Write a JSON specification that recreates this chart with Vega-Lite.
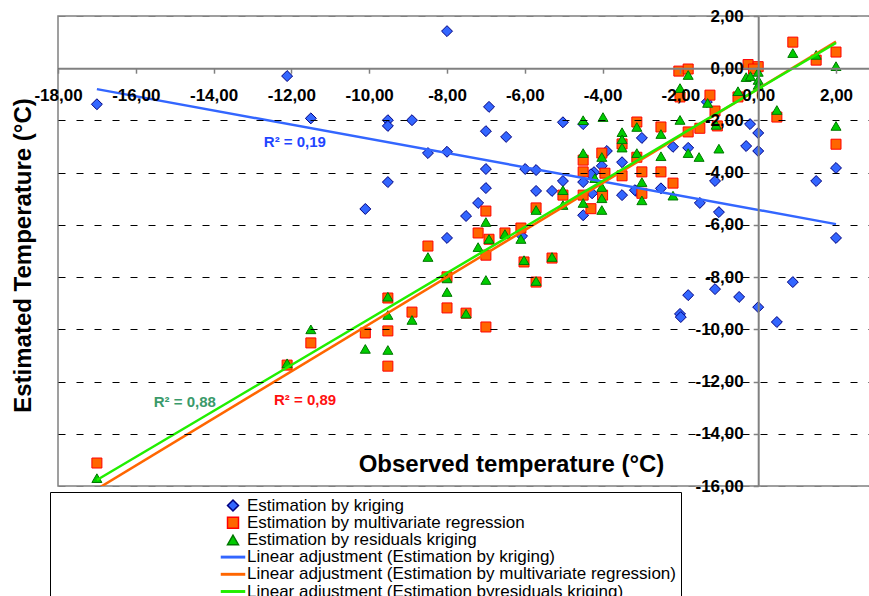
{
  "$schema": "https://vega.github.io/schema/vega-lite/v6.json",
  "width": 812,
  "height": 470,
  "autosize": {"type": "none"},
  "padding": {"left": 58, "top": 16, "right": 0, "bottom": 110},
  "background": "white",
  "config": {"view": {"stroke": "#808080", "strokeWidth": 1.5}, "font": "Liberation Sans"},
  "datasets": {
    "pts": [
      {"series": "Estimation by kriging", "observed": -17, "estimated": -1.38},
      {"series": "Estimation by kriging", "observed": -12.11, "estimated": -0.3},
      {"series": "Estimation by kriging", "observed": -8, "estimated": 1.42},
      {"series": "Estimation by kriging", "observed": -11.5, "estimated": -1.92},
      {"series": "Estimation by kriging", "observed": -9.52, "estimated": -1.99},
      {"series": "Estimation by kriging", "observed": -9.52, "estimated": -2.21},
      {"series": "Estimation by kriging", "observed": -8.9, "estimated": -1.99},
      {"series": "Estimation by kriging", "observed": -6.92, "estimated": -1.48},
      {"series": "Estimation by kriging", "observed": -7, "estimated": -2.41},
      {"series": "Estimation by kriging", "observed": -6.48, "estimated": -2.63},
      {"series": "Estimation by kriging", "observed": -5.02, "estimated": -2.07},
      {"series": "Estimation by kriging", "observed": -8.49, "estimated": -3.25},
      {"series": "Estimation by kriging", "observed": -8, "estimated": -3.2},
      {"series": "Estimation by kriging", "observed": -7, "estimated": -3.86},
      {"series": "Estimation by kriging", "observed": -5.99, "estimated": -3.86},
      {"series": "Estimation by kriging", "observed": -5.71, "estimated": -3.9},
      {"series": "Estimation by kriging", "observed": -9.52, "estimated": -4.36},
      {"series": "Estimation by kriging", "observed": -7, "estimated": -4.59},
      {"series": "Estimation by kriging", "observed": -5.71, "estimated": -4.7},
      {"series": "Estimation by kriging", "observed": -5.3, "estimated": -4.7},
      {"series": "Estimation by kriging", "observed": -5.02, "estimated": -4.32},
      {"series": "Estimation by kriging", "observed": -7.2, "estimated": -5.16},
      {"series": "Estimation by kriging", "observed": -7.51, "estimated": -5.66},
      {"series": "Estimation by kriging", "observed": -8, "estimated": -6.5},
      {"series": "Estimation by kriging", "observed": -10.1, "estimated": -5.39},
      {"series": "Estimation by kriging", "observed": -6.07, "estimated": -6.43},
      {"series": "Estimation by kriging", "observed": -4.5, "estimated": -5.63},
      {"series": "Estimation by kriging", "observed": -4.5, "estimated": -2.14},
      {"series": "Estimation by kriging", "observed": -2.99, "estimated": -2.67},
      {"series": "Estimation by kriging", "observed": -2.19, "estimated": -3.01},
      {"series": "Estimation by kriging", "observed": -1.8, "estimated": -3.05},
      {"series": "Estimation by kriging", "observed": -3.89, "estimated": -3.17},
      {"series": "Estimation by kriging", "observed": -3.5, "estimated": -3.6},
      {"series": "Estimation by kriging", "observed": -4.02, "estimated": -3.74},
      {"series": "Estimation by kriging", "observed": -4.22, "estimated": -3.98},
      {"series": "Estimation by kriging", "observed": -4.5, "estimated": -4.36},
      {"series": "Estimation by kriging", "observed": -1.11, "estimated": -4.32},
      {"series": "Estimation by kriging", "observed": -0.21, "estimated": -2.14},
      {"series": "Estimation by kriging", "observed": 0, "estimated": -2.48},
      {"series": "Estimation by kriging", "observed": -0.31, "estimated": -2.98},
      {"series": "Estimation by kriging", "observed": 0, "estimated": -3.17},
      {"series": "Estimation by kriging", "observed": 1.49, "estimated": -4.32},
      {"series": "Estimation by kriging", "observed": 2, "estimated": -3.82},
      {"series": "Estimation by kriging", "observed": -1.32, "estimated": -1.29},
      {"series": "Estimation by kriging", "observed": -3.5, "estimated": -4.86},
      {"series": "Estimation by kriging", "observed": -2.5, "estimated": -4.6},
      {"series": "Estimation by kriging", "observed": -3.14, "estimated": -4.7},
      {"series": "Estimation by kriging", "observed": -1.5, "estimated": -5.16},
      {"series": "Estimation by kriging", "observed": -1.01, "estimated": -5.51},
      {"series": "Estimation by kriging", "observed": 2, "estimated": -6.5},
      {"series": "Estimation by kriging", "observed": -1.8, "estimated": -8.69},
      {"series": "Estimation by kriging", "observed": -1.11, "estimated": -8.46},
      {"series": "Estimation by kriging", "observed": -0.49, "estimated": -8.76},
      {"series": "Estimation by kriging", "observed": 0, "estimated": -9.15},
      {"series": "Estimation by kriging", "observed": 0.89, "estimated": -8.19},
      {"series": "Estimation by kriging", "observed": 0.48, "estimated": -9.72},
      {"series": "Estimation by kriging", "observed": -2.01, "estimated": -9.41},
      {"series": "Estimation by kriging", "observed": -1.99, "estimated": -9.53},
      {"series": "Estimation by kriging", "observed": -4.27, "estimated": -4.79},
      {"series": "Estimation by kriging", "observed": -4.3, "estimated": -4.06},
      {"series": "Estimation by kriging", "observed": -3.17, "estimated": -4.67},
      {"series": "Estimation by multivariate regression", "observed": -17, "estimated": -15.12},
      {"series": "Estimation by multivariate regression", "observed": -12.11, "estimated": -11.37},
      {"series": "Estimation by multivariate regression", "observed": -11.5, "estimated": -10.52},
      {"series": "Estimation by multivariate regression", "observed": -10.1, "estimated": -10.14},
      {"series": "Estimation by multivariate regression", "observed": -9.52, "estimated": -8.8},
      {"series": "Estimation by multivariate regression", "observed": -9.52, "estimated": -10.06},
      {"series": "Estimation by multivariate regression", "observed": -9.52, "estimated": -11.41},
      {"series": "Estimation by multivariate regression", "observed": -8.9, "estimated": -9.34},
      {"series": "Estimation by multivariate regression", "observed": -8.49, "estimated": -6.81},
      {"series": "Estimation by multivariate regression", "observed": -8, "estimated": -7.99},
      {"series": "Estimation by multivariate regression", "observed": -8, "estimated": -9.18},
      {"series": "Estimation by multivariate regression", "observed": -7.51, "estimated": -9.38},
      {"series": "Estimation by multivariate regression", "observed": -7.2, "estimated": -6.31},
      {"series": "Estimation by multivariate regression", "observed": -7, "estimated": -5.47},
      {"series": "Estimation by multivariate regression", "observed": -6.92, "estimated": -6.55},
      {"series": "Estimation by multivariate regression", "observed": -7, "estimated": -7.16},
      {"series": "Estimation by multivariate regression", "observed": -7, "estimated": -9.91},
      {"series": "Estimation by multivariate regression", "observed": -6.51, "estimated": -6.31},
      {"series": "Estimation by multivariate regression", "observed": -6.1, "estimated": -6.12},
      {"series": "Estimation by multivariate regression", "observed": -6.02, "estimated": -7.42},
      {"series": "Estimation by multivariate regression", "observed": -5.71, "estimated": -5.35},
      {"series": "Estimation by multivariate regression", "observed": -5.71, "estimated": -8.19},
      {"series": "Estimation by multivariate regression", "observed": -5.3, "estimated": -7.27},
      {"series": "Estimation by multivariate regression", "observed": -5.02, "estimated": -4.86},
      {"series": "Estimation by multivariate regression", "observed": -4.5, "estimated": -3.52},
      {"series": "Estimation by multivariate regression", "observed": -4.5, "estimated": -3.97},
      {"series": "Estimation by multivariate regression", "observed": -4.5, "estimated": -4.86},
      {"series": "Estimation by multivariate regression", "observed": -4.3, "estimated": -5.38},
      {"series": "Estimation by multivariate regression", "observed": -4.02, "estimated": -3.25},
      {"series": "Estimation by multivariate regression", "observed": -3.94, "estimated": -4.02},
      {"series": "Estimation by multivariate regression", "observed": -4, "estimated": -4.86},
      {"series": "Estimation by multivariate regression", "observed": -3.5, "estimated": -2.9},
      {"series": "Estimation by multivariate regression", "observed": -3.5, "estimated": -4.12},
      {"series": "Estimation by multivariate regression", "observed": -3.12, "estimated": -2.06},
      {"series": "Estimation by multivariate regression", "observed": -3.12, "estimated": -3.41},
      {"series": "Estimation by multivariate regression", "observed": -2.99, "estimated": -3.97},
      {"series": "Estimation by multivariate regression", "observed": -2.99, "estimated": -4.79},
      {"series": "Estimation by multivariate regression", "observed": -2.5, "estimated": -2.25},
      {"series": "Estimation by multivariate regression", "observed": -2.5, "estimated": -3.97},
      {"series": "Estimation by multivariate regression", "observed": -2.19, "estimated": -4.4},
      {"series": "Estimation by multivariate regression", "observed": -2.04, "estimated": -0.11},
      {"series": "Estimation by multivariate regression", "observed": -1.8, "estimated": -0.03},
      {"series": "Estimation by multivariate regression", "observed": -2.01, "estimated": -1.1},
      {"series": "Estimation by multivariate regression", "observed": -1.8, "estimated": -2.44},
      {"series": "Estimation by multivariate regression", "observed": -1.5, "estimated": -2.3},
      {"series": "Estimation by multivariate regression", "observed": -1.24, "estimated": -1.03},
      {"series": "Estimation by multivariate regression", "observed": -1.11, "estimated": -1.64},
      {"series": "Estimation by multivariate regression", "observed": -1.05, "estimated": -2.21},
      {"series": "Estimation by multivariate regression", "observed": -0.52, "estimated": -1.1},
      {"series": "Estimation by multivariate regression", "observed": -0.26, "estimated": 0.14},
      {"series": "Estimation by multivariate regression", "observed": 0, "estimated": 0.06},
      {"series": "Estimation by multivariate regression", "observed": -0.12, "estimated": -0.03},
      {"series": "Estimation by multivariate regression", "observed": 0.48, "estimated": -1.87},
      {"series": "Estimation by multivariate regression", "observed": 0.89, "estimated": 1.0},
      {"series": "Estimation by multivariate regression", "observed": 1.49, "estimated": 0.31},
      {"series": "Estimation by multivariate regression", "observed": 2, "estimated": 0.62},
      {"series": "Estimation by multivariate regression", "observed": 2, "estimated": -2.91},
      {"series": "Estimation by residuals kriging", "observed": -17, "estimated": -15.7},
      {"series": "Estimation by residuals kriging", "observed": -12.11, "estimated": -11.3},
      {"series": "Estimation by residuals kriging", "observed": -11.5, "estimated": -10.0},
      {"series": "Estimation by residuals kriging", "observed": -10.1, "estimated": -10.75},
      {"series": "Estimation by residuals kriging", "observed": -9.52, "estimated": -8.75},
      {"series": "Estimation by residuals kriging", "observed": -9.52, "estimated": -9.45},
      {"series": "Estimation by residuals kriging", "observed": -9.52, "estimated": -10.79},
      {"series": "Estimation by residuals kriging", "observed": -8.9, "estimated": -9.64},
      {"series": "Estimation by residuals kriging", "observed": -8.49, "estimated": -7.23},
      {"series": "Estimation by residuals kriging", "observed": -8, "estimated": -8.05},
      {"series": "Estimation by residuals kriging", "observed": -8, "estimated": -8.57},
      {"series": "Estimation by residuals kriging", "observed": -7.51, "estimated": -9.4},
      {"series": "Estimation by residuals kriging", "observed": -7.2, "estimated": -6.85},
      {"series": "Estimation by residuals kriging", "observed": -7, "estimated": -5.89},
      {"series": "Estimation by residuals kriging", "observed": -6.92, "estimated": -6.54},
      {"series": "Estimation by residuals kriging", "observed": -7, "estimated": -8.11},
      {"series": "Estimation by residuals kriging", "observed": -6.51, "estimated": -6.35},
      {"series": "Estimation by residuals kriging", "observed": -6.1, "estimated": -6.54},
      {"series": "Estimation by residuals kriging", "observed": -6.02, "estimated": -7.35},
      {"series": "Estimation by residuals kriging", "observed": -5.71, "estimated": -5.43},
      {"series": "Estimation by residuals kriging", "observed": -5.71, "estimated": -8.15},
      {"series": "Estimation by residuals kriging", "observed": -5.3, "estimated": -7.23},
      {"series": "Estimation by residuals kriging", "observed": -5.02, "estimated": -4.67},
      {"series": "Estimation by residuals kriging", "observed": -5.02, "estimated": -5.24},
      {"series": "Estimation by residuals kriging", "observed": -4.5, "estimated": -1.99},
      {"series": "Estimation by residuals kriging", "observed": -3.99, "estimated": -1.87},
      {"series": "Estimation by residuals kriging", "observed": -4.5, "estimated": -3.25},
      {"series": "Estimation by residuals kriging", "observed": -4.5, "estimated": -5.16},
      {"series": "Estimation by residuals kriging", "observed": -4.2, "estimated": -4.21},
      {"series": "Estimation by residuals kriging", "observed": -4.02, "estimated": -3.4},
      {"series": "Estimation by residuals kriging", "observed": -4.02, "estimated": -4.55},
      {"series": "Estimation by residuals kriging", "observed": -4.02, "estimated": -4.98},
      {"series": "Estimation by residuals kriging", "observed": -4.02, "estimated": -5.43},
      {"series": "Estimation by residuals kriging", "observed": -3.5, "estimated": -2.45},
      {"series": "Estimation by residuals kriging", "observed": -3.5, "estimated": -2.72},
      {"series": "Estimation by residuals kriging", "observed": -3.5, "estimated": -3.04},
      {"series": "Estimation by residuals kriging", "observed": -3.12, "estimated": -2.25},
      {"series": "Estimation by residuals kriging", "observed": -3.12, "estimated": -3.25},
      {"series": "Estimation by residuals kriging", "observed": -2.99, "estimated": -4.36},
      {"series": "Estimation by residuals kriging", "observed": -2.99, "estimated": -5.06},
      {"series": "Estimation by residuals kriging", "observed": -2.5, "estimated": -2.52},
      {"series": "Estimation by residuals kriging", "observed": -2.5, "estimated": -3.37},
      {"series": "Estimation by residuals kriging", "observed": -2.19, "estimated": -4.88},
      {"series": "Estimation by residuals kriging", "observed": -1.8, "estimated": -0.26},
      {"series": "Estimation by residuals kriging", "observed": -2.01, "estimated": -0.76},
      {"series": "Estimation by residuals kriging", "observed": -2.01, "estimated": -1.98},
      {"series": "Estimation by residuals kriging", "observed": -1.8, "estimated": -3.25},
      {"series": "Estimation by residuals kriging", "observed": -1.52, "estimated": -3.4},
      {"series": "Estimation by residuals kriging", "observed": -1.3, "estimated": -1.33},
      {"series": "Estimation by residuals kriging", "observed": -1.08, "estimated": -2.17},
      {"series": "Estimation by residuals kriging", "observed": -1.01, "estimated": -3.08},
      {"series": "Estimation by residuals kriging", "observed": -0.52, "estimated": -0.88},
      {"series": "Estimation by residuals kriging", "observed": -0.31, "estimated": -0.34},
      {"series": "Estimation by residuals kriging", "observed": 0, "estimated": -0.14},
      {"series": "Estimation by residuals kriging", "observed": 0, "estimated": -0.45},
      {"series": "Estimation by residuals kriging", "observed": 0, "estimated": -0.64},
      {"series": "Estimation by residuals kriging", "observed": -0.2, "estimated": -0.3},
      {"series": "Estimation by residuals kriging", "observed": 0.48, "estimated": -1.6},
      {"series": "Estimation by residuals kriging", "observed": 0.89, "estimated": 0.58},
      {"series": "Estimation by residuals kriging", "observed": 1.49, "estimated": 0.51},
      {"series": "Estimation by residuals kriging", "observed": 2, "estimated": 0.08},
      {"series": "Estimation by residuals kriging", "observed": 2, "estimated": -2.21}
    ],
    "fits": [
      {"series": "Linear adjustment (Estimation by kriging)", "observed": -17, "estimated": -0.8},
      {"series": "Linear adjustment (Estimation by kriging)", "observed": 2, "estimated": -5.97},
      {"series": "Linear adjustment (Estimation by multivariate regression)", "observed": -17, "estimated": -16.12},
      {"series": "Linear adjustment (Estimation by multivariate regression)", "observed": 2, "estimated": 1.02},
      {"series": "Linear adjustment (Estimation byresiduals kriging)", "observed": -17, "estimated": -15.77},
      {"series": "Linear adjustment (Estimation byresiduals kriging)", "observed": 2, "estimated": 0.97}
    ],
    "notes": [
      {"label": "R² = 0,19", "fit": "kriging", "observed": -11.91, "estimated": -2.83},
      {"label": "R² = 0,88", "fit": "residuals", "observed": -14.74, "estimated": -12.79},
      {"label": "R² = 0,89", "fit": "multivariate", "observed": -11.65, "estimated": -12.71}
    ]
  },
  "layer": [
    {
      "data": {"name": "pts"},
      "mark": {"type": "point", "filled": true, "opacity": 1, "strokeWidth": 1},
      "encoding": {
        "x": {
          "field": "observed", "type": "quantitative",
          "scale": {"domain": [-18, 2.874], "nice": false, "zero": false},
          "axis": {
            "orient": "bottom", "offset": -417.8, "zindex": 1,
            "values": [-18, -16, -14, -12, -10, -8, -6, -4, -2, 0, 2],
            "labelExpr": "(datum.value < 0 ? '-' : '') + replace(format(abs(datum.value), '.2f'), '.', ',')",
            "labelFont": "Liberation Sans", "labelFontWeight": "bold", "labelFontSize": 17, "labelColor": "black",
            "labelPadding": 14, "labelOverlap": false, "labelFlush": false,
            "tickSize": 5, "tickColor": "#808080", "tickWidth": 1.5,
            "domainColor": "#808080", "domainWidth": 2, "grid": false,
            "title": "Observed temperature (°C)", "titleFont": "Liberation Sans", "titleFontSize": 24, "titleFontWeight": "bold", "titleColor": "black",
            "titleX": 453, "titleY": 402.8, "titleBaseline": "alphabetic", "titleAlign": "center", "titleAngle": 0
          }
        },
        "y": {
          "field": "estimated", "type": "quantitative",
          "scale": {"domain": [-16, 2], "nice": false, "zero": false},
          "axis": {
            "orient": "left", "offset": -700.2, "zindex": 1,
            "values": [2, 0, -2, -4, -6, -8, -10, -12, -14, -16],
            "labelExpr": "(datum.value < 0 ? '-' : '') + replace(format(abs(datum.value), '.2f'), '.', ',')",
            "labelFont": "Liberation Sans", "labelFontWeight": "bold", "labelFontSize": 17, "labelColor": "black",
            "labelPadding": 10, "labelOverlap": false, "labelFlush": false,
            "tickSize": 5, "tickColor": "#808080", "tickWidth": 1.5,
            "domainColor": "#808080", "domainWidth": 2,
            "grid": true,
            "gridColor": {"condition": {"test": "datum.value == 2 || datum.value == -16", "value": "#808080"}, "value": "black"},
            "gridDash": [7, 11], "gridWidth": 1,
            "title": "Estimated Temperature (°C)", "titleFont": "Liberation Sans", "titleFontSize": 24, "titleFontWeight": "bold", "titleColor": "black",
            "titleX": -728.2, "titleY": 239, "titleAngle": -90, "titleBaseline": "alphabetic", "titleAlign": "center"
          }
        },
        "fill": {
          "field": "series", "type": "nominal",
          "scale": {
            "domain": ["Estimation by kriging", "Estimation by multivariate regression", "Estimation by residuals kriging", "Linear adjustment (Estimation by kriging)", "Linear adjustment (Estimation by multivariate regression)", "Linear adjustment (Estimation byresiduals kriging)"],
            "range": ["#3366FF", "#FF6600", "#00CC00", "#3366FF", "#FF6600", "#22EE00"]
          },
          "legend": {
            "title": null, "orient": "none", "legendX": -8, "legendY": 476,
            "padding": 5, "strokeColor": "black", "fillColor": "white",
            "symbolOffset": 169.5, "labelOffset": 5.5, "symbolSize": 120,
            "labelFont": "Liberation Sans", "labelFontSize": 17, "labelColor": "black", "labelLimit": 800,
            "rowPadding": -0.8
          }
        },
        "stroke": {
          "field": "series", "type": "nominal",
          "scale": {
            "domain": ["Estimation by kriging", "Estimation by multivariate regression", "Estimation by residuals kriging", "Linear adjustment (Estimation by kriging)", "Linear adjustment (Estimation by multivariate regression)", "Linear adjustment (Estimation byresiduals kriging)"],
            "range": ["#000080", "#FF0000", "#007700", "#3366FF", "#FF6600", "#22EE00"]
          },
          "legend": {
            "title": null, "orient": "none", "legendX": -8, "legendY": 476,
            "padding": 5, "strokeColor": "black", "fillColor": "white",
            "symbolOffset": 169.5, "labelOffset": 5.5, "symbolSize": 120,
            "labelFont": "Liberation Sans", "labelFontSize": 17, "labelColor": "black", "labelLimit": 800,
            "rowPadding": -0.8
          }
        },
        "shape": {
          "field": "series", "type": "nominal",
          "scale": {
            "domain": ["Estimation by kriging", "Estimation by multivariate regression", "Estimation by residuals kriging", "Linear adjustment (Estimation by kriging)", "Linear adjustment (Estimation by multivariate regression)", "Linear adjustment (Estimation byresiduals kriging)"],
            "range": ["diamond", "square", "triangle-up", "M-2.1,-0.13H2.1V0.13H-2.1Z", "M-2.1,-0.13H2.1V0.13H-2.1Z", "M-2.1,-0.13H2.1V0.13H-2.1Z"]
          },
          "legend": {
            "title": null, "orient": "none", "legendX": -8, "legendY": 476,
            "padding": 5, "strokeColor": "black", "fillColor": "white",
            "symbolOffset": 169.5, "labelOffset": 5.5, "symbolSize": 120,
            "labelFont": "Liberation Sans", "labelFontSize": 17, "labelColor": "black", "labelLimit": 800,
            "rowPadding": -0.8
          }
        },
        "size": {
          "field": "series", "type": "nominal",
          "scale": {
            "type": "ordinal",
            "domain": ["Estimation by kriging", "Estimation by multivariate regression", "Estimation by residuals kriging"],
            "range": [120, 100, 100]
          },
          "legend": null
        }
      }
    },
    {
      "data": {"name": "fits"},
      "mark": {"type": "line", "clip": true, "strokeWidth": 2.5},
      "encoding": {
        "x": {"field": "observed", "type": "quantitative"},
        "y": {"field": "estimated", "type": "quantitative"},
        "stroke": {"field": "series", "type": "nominal"}
      }
    },
    {
      "data": {"name": "notes"},
      "mark": {"type": "text", "font": "Liberation Sans", "fontWeight": "bold", "fontSize": 15, "align": "center", "baseline": "middle"},
      "encoding": {
        "x": {"field": "observed", "type": "quantitative"},
        "y": {"field": "estimated", "type": "quantitative"},
        "text": {"field": "label", "type": "nominal"},
        "color": {
          "field": "fit", "type": "nominal",
          "scale": {"domain": ["kriging", "residuals", "multivariate"], "range": ["#1F45FF", "#3A9A6A", "#FF1010"]},
          "legend": null
        }
      }
    }
  ]
}
